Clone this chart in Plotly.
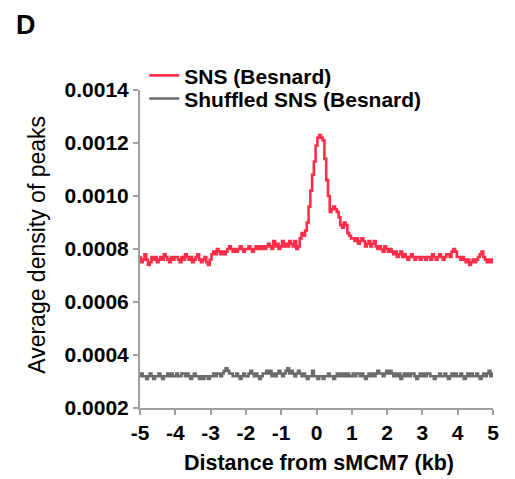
import plotly.graph_objects as go

# bin centres (kb), 0.05 kb bins from -5 to 5
distance_kb = [round(-5 + 0.05 * i, 2) for i in range(201)]

# average density of peaks, in units of 1e-4
sns_besnard = [
    7.7, 7.5, 7.6, 7.8, 7.6, 7.4, 7.5, 7.7, 7.6, 7.7, 7.5, 7.6, 7.7, 7.6, 7.8, 7.7, 7.6, 7.5, 7.7, 7.6, 7.7,
    7.7, 7.6, 7.5, 7.7, 7.6, 7.8, 7.7, 7.6, 7.7, 7.5, 7.6, 7.7, 7.8, 7.6, 7.5, 7.6, 7.7, 7.5, 7.4, 7.6,
    7.8, 7.9, 7.8, 8.0, 7.9, 7.8, 7.9, 7.8, 7.9, 8.0, 8.1, 8.0, 7.9, 8.0, 7.9, 8.0, 8.1, 8.0, 7.9, 8.0,
    8.0, 8.1, 8.0, 7.9, 8.0, 8.1, 8.0, 8.1, 8.0, 8.1, 8.0, 8.1, 8.2, 8.1, 8.0, 8.3, 8.1, 8.2, 8.0, 8.1,
    8.3, 8.1, 8.2, 8.1, 8.3, 8.2, 8.1, 8.3, 8.0, 8.1,
    8.4, 8.6, 8.5, 8.7, 9.0, 9.6, 10.2, 10.8, 11.3, 11.9,
    12.2, 12.3, 12.2, 12.1, 11.4, 10.6, 10.0, 9.4, 9.5, 9.6,
    9.5, 9.4, 9.2, 8.9, 8.8, 9.0, 8.9, 8.6, 8.5, 8.4,
    8.4, 8.3, 8.4, 8.2, 8.3, 8.4, 8.3, 8.1, 8.2, 8.3, 8.1, 8.2, 8.3, 8.1, 8.0, 8.1, 8.0, 7.9, 8.1, 8.0,
    7.9, 8.0, 7.9, 7.8, 7.9, 7.7, 7.8, 7.9, 7.7, 7.8, 7.7, 7.6, 7.7, 7.8, 7.7, 7.6, 7.7, 7.7, 7.6, 7.7,
    7.7, 7.6, 7.7, 7.7, 7.6, 7.8, 7.7, 7.6, 7.7, 7.8, 7.7, 7.6, 7.7, 7.8, 7.8, 7.7, 7.9, 8.0, 7.9, 7.7,
    7.7, 7.6, 7.7, 7.6, 7.5, 7.6, 7.4, 7.5, 7.6, 7.5, 7.6, 7.7, 7.8, 7.9, 7.7, 7.6, 7.5, 7.6, 7.5, 7.6,
]

shuffled_sns = [
    3.2, 3.3, 3.2, 3.2, 3.1, 3.2, 3.3, 3.2, 3.1, 3.2, 3.2, 3.3, 3.2, 3.1, 3.2, 3.2, 3.3, 3.2, 3.3, 3.2, 3.2,
    3.3, 3.2, 3.2, 3.3, 3.3, 3.2, 3.3, 3.2, 3.1, 3.2, 3.3, 3.2, 3.2, 3.1, 3.2, 3.1, 3.2, 3.2, 3.1, 3.2,
    3.2, 3.3, 3.2, 3.3, 3.3, 3.2, 3.3, 3.4, 3.5, 3.4, 3.3, 3.3, 3.2, 3.2, 3.3, 3.2, 3.1, 3.2, 3.3, 3.2,
    3.2, 3.3, 3.4, 3.3, 3.2, 3.3, 3.2, 3.1, 3.2, 3.3, 3.3, 3.4, 3.3, 3.4, 3.2, 3.3, 3.2, 3.3, 3.4, 3.3,
    3.2, 3.3, 3.4, 3.5, 3.3, 3.4, 3.3, 3.2, 3.3, 3.4, 3.3, 3.2, 3.3, 3.2, 3.1, 3.2, 3.2, 3.4, 3.2, 3.2,
    3.1, 3.2, 3.2, 3.1, 3.2, 3.2, 3.3, 3.2, 3.2, 3.1, 3.2, 3.3, 3.2, 3.3, 3.2, 3.3, 3.2, 3.3, 3.2, 3.2,
    3.3, 3.2, 3.3, 3.3, 3.2, 3.3, 3.2, 3.1, 3.2, 3.3, 3.2, 3.3, 3.2, 3.3, 3.4, 3.3, 3.3, 3.2, 3.3, 3.4,
    3.3, 3.4, 3.3, 3.2, 3.3, 3.2, 3.3, 3.1, 3.2, 3.3, 3.2, 3.3, 3.2, 3.3, 3.3, 3.2, 3.1, 3.2, 3.3, 3.2,
    3.3, 3.2, 3.3, 3.3, 3.2, 3.2, 3.1, 3.2, 3.2, 3.3, 3.2, 3.2, 3.3, 3.2, 3.1, 3.2, 3.3, 3.2, 3.3, 3.2,
    3.2, 3.3, 3.2, 3.1, 3.2, 3.3, 3.2, 3.3, 3.2, 3.2, 3.3, 3.2, 3.1, 3.2, 3.3, 3.2, 3.3, 3.4, 3.2, 3.3,
]

x_ticks = [-5, -4, -3, -2, -1, 0, 1, 2, 3, 4, 5]
y_ticks = [0.0002, 0.0004, 0.0006, 0.0008, 0.0010, 0.0012, 0.0014]
y_tick_text = ["0.0002", "0.0004", "0.0006", "0.0008", "0.0010", "0.0012", "0.0014"]

FONT = "Liberation Sans, Arial, sans-serif"
AXIS_GRAY = "#a0a0a0"

fig = go.Figure()
fig.add_trace(go.Scatter(
    x=distance_kb, y=[v * 1e-4 for v in sns_besnard],
    mode="lines", line=dict(color="#ff2d48", width=2.6, shape="hvh"),
    name="<b>SNS (Besnard)</b>", legend="legend",
))
fig.add_trace(go.Scatter(
    x=distance_kb, y=[v * 1e-4 for v in shuffled_sns],
    mode="lines", line=dict(color="#6b6b6b", width=2.6, shape="hvh"),
    name="<b>Shuffled SNS (Besnard)</b>", legend="legend2",
))

# page body has an 8px margin, so the plot area is nudged up/left to compensate
legend_style = dict(xanchor="left", yanchor="middle", bgcolor="rgba(0,0,0,0)",
                    font=dict(size=21), itemwidth=30)
fig.update_layout(
    width=515, height=479,
    margin=dict(l=132, r=30, t=82, b=79),
    paper_bgcolor="white", plot_bgcolor="white",
    font=dict(family=FONT, color="black", size=21),
    showlegend=True,
    legend=dict(x=0.012, y=1.045, **legend_style),
    legend2=dict(x=0.012, y=0.972, **legend_style),
    annotations=[
        dict(text="<b>D</b>", x=-0.323, y=1.205, xref="paper", yref="paper",
             xanchor="center", yanchor="middle", showarrow=False, font=dict(size=27)),
        dict(text="Average density of peaks", x=-0.292, y=0.513, xref="paper", yref="paper",
             xanchor="center", yanchor="middle",
             textangle=-90, showarrow=False, font=dict(size=23)),
        dict(text="<b>Distance from sMCM7 (kb)</b>", x=0.507, y=-0.173, xref="paper", yref="paper",
             xanchor="center", yanchor="middle", showarrow=False, font=dict(size=21.5)),
    ],
)

fig.update_xaxes(
    range=[-5, 5], tickvals=x_ticks, ticktext=[f"<b>{t}</b>" for t in x_ticks],
    showline=True, linecolor=AXIS_GRAY, linewidth=2,
    ticks="outside", ticklen=5, tickcolor=AXIS_GRAY, tickwidth=1.5,
    showgrid=False, zeroline=False, tickfont=dict(size=21),
)
fig.update_yaxes(
    range=[0.0002, 0.0014], tickvals=y_ticks, ticktext=[f"<b>{t}</b>" for t in y_tick_text],
    showline=True, linecolor=AXIS_GRAY, linewidth=2,
    ticks="outside", ticklen=5, tickcolor=AXIS_GRAY, tickwidth=1.5,
    showgrid=False, zeroline=False, tickfont=dict(size=21),
)

fig.write_html("out.html")
